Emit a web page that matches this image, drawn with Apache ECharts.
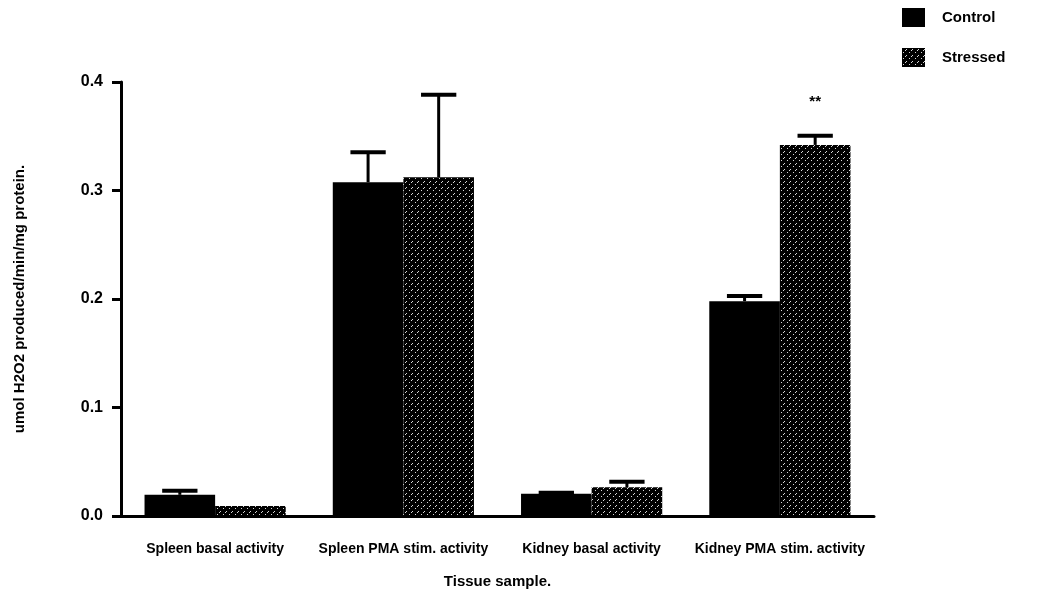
<!DOCTYPE html>
<html>
<head>
<meta charset="utf-8">
<script src="https://cdn.jsdelivr.net/npm/echarts@6/dist/echarts.min.js"></script>
<style>html,body{margin:0;padding:0;background:#fff}#c{width:1042px;height:609px}</style>
</head>
<body>
<div id="c"></div>
<script>
// ---- data ----
var categories = ['Spleen basal activity', 'Spleen PMA stim. activity', 'Kidney basal activity', 'Kidney PMA stim. activity'];
var controlValues = [0.0195, 0.3076, 0.0205, 0.198];
var stressedValues = [0.0092, 0.3122, 0.0265, 0.342];
var controlErr = [0.0038, 0.0276, 0.0010, 0.0048];
var stressedErr = [0, 0.0760, 0.0050, 0.0085];
var stressedMarks = ['', '', '', '**'];
var yTicks = [0, 0.1, 0.2, 0.3, 0.4];

// ---- hatch pattern for "Stressed" ----
function makePattern() {
  var c = document.createElement('canvas');
  c.width = 6; c.height = 6;
  var g = c.getContext('2d');
  g.fillStyle = '#000'; g.fillRect(0, 0, 6, 6);
  g.fillStyle = '#d8d8d8';
  g.fillRect(4, 1, 1, 1);
  g.fillRect(3, 2, 1, 1);
  g.fillRect(1, 4, 1, 1);
  return c;
}
var pattern = { image: makePattern(), repeat: 'repeat' };

var FONT = 'Liberation Sans, Arial, sans-serif';
var chart = echarts.init(document.getElementById('c'), null, { renderer: 'canvas' });

function errRender(values, errs, side) {
  return function (params, api) {
    var i = api.value(0);
    var v = values[i], e = errs[i];
    if (!e) return { type: 'group', children: [] };
    var band = api.size([1, 0])[0];
    var bw = band * 0.375;
    var center = api.coord([i, 0])[0] + side * bw / 2;
    var top = api.coord([i, v])[1];
    var capY = api.coord([i, v + e])[1];
    var capW = bw * 0.5;
    return {
      type: 'group',
      children: [
        { type: 'line', shape: { x1: center, y1: top, x2: center, y2: capY }, style: { stroke: '#000', lineWidth: 3 } },
        { type: 'line', shape: { x1: center - capW / 2, y1: capY, x2: center + capW / 2, y2: capY }, style: { stroke: '#000', lineWidth: 4 } }
      ]
    };
  };
}

var stressedData = stressedValues.map(function (v, i) {
  if (stressedMarks[i]) {
    return { value: v, label: { show: true, position: 'top', distance: 36, formatter: stressedMarks[i], color: '#000', fontSize: 15, fontWeight: 'bold', fontFamily: FONT } };
  }
  return v;
});

chart.setOption({
  animation: false,
  backgroundColor: '#fff',
  grid: { left: 121, right: 168, top: 82, bottom: 93, containLabel: false },
  legend: {
    data: ['Control', 'Stressed'],
    orient: 'vertical',
    left: 902, top: 8, padding: 0,
    itemWidth: 23, itemHeight: 19, itemGap: 21,
    icon: 'rect',
    textStyle: { color: '#000', fontSize: 15, fontWeight: 'bold', fontFamily: FONT, padding: [0, 0, 0, 12] }
  },
  xAxis: {
    type: 'category',
    data: categories,
    name: 'Tissue sample.',
    nameLocation: 'middle',
    nameGap: 58,
    nameTextStyle: { color: '#000', fontSize: 15, fontWeight: 'bold', fontFamily: FONT },
    axisLine: { lineStyle: { color: '#000', width: 3 } },
    axisTick: { show: false },
    axisLabel: { interval: 0, color: '#000', fontSize: 14, fontWeight: 'bold', fontFamily: FONT, margin: 26 }
  },
  yAxis: {
    type: 'value',
    min: 0, max: 0.4, interval: 0.1,
    name: 'umol H2O2 produced/min/mg protein.',
    nameLocation: 'middle',
    nameGap: 94,
    nameTextStyle: { color: '#000', fontSize: 15, fontWeight: 'bold', fontFamily: FONT },
    axisLine: { show: true, lineStyle: { color: '#000', width: 3 } },
    axisTick: { show: true, length: 9, lineStyle: { color: '#000', width: 3 } },
    splitLine: { show: false },
    axisLabel: {
      color: '#000', fontSize: 16, fontWeight: 'bold', fontFamily: FONT, margin: 18,
      formatter: function (v) { return yTicks.indexOf(Math.round(v * 10) / 10) >= 0 ? v.toFixed(1) : ''; }
    }
  },
  series: [
    { name: 'Control', type: 'bar', data: controlValues, barGap: '0%', barCategoryGap: '25%', itemStyle: { color: '#000' } },
    { name: 'Stressed', type: 'bar', data: stressedData, barGap: '0%', barCategoryGap: '25%', itemStyle: { color: pattern } },
    { name: 'ControlErr', type: 'custom', data: categories.map(function (c, i) { return [i]; }), renderItem: errRender(controlValues, controlErr, -1), z: 3 },
    { name: 'StressedErr', type: 'custom', data: categories.map(function (c, i) { return [i]; }), renderItem: errRender(stressedValues, stressedErr, 1), z: 3 }
  ]
});
</script>
</body>
</html>
